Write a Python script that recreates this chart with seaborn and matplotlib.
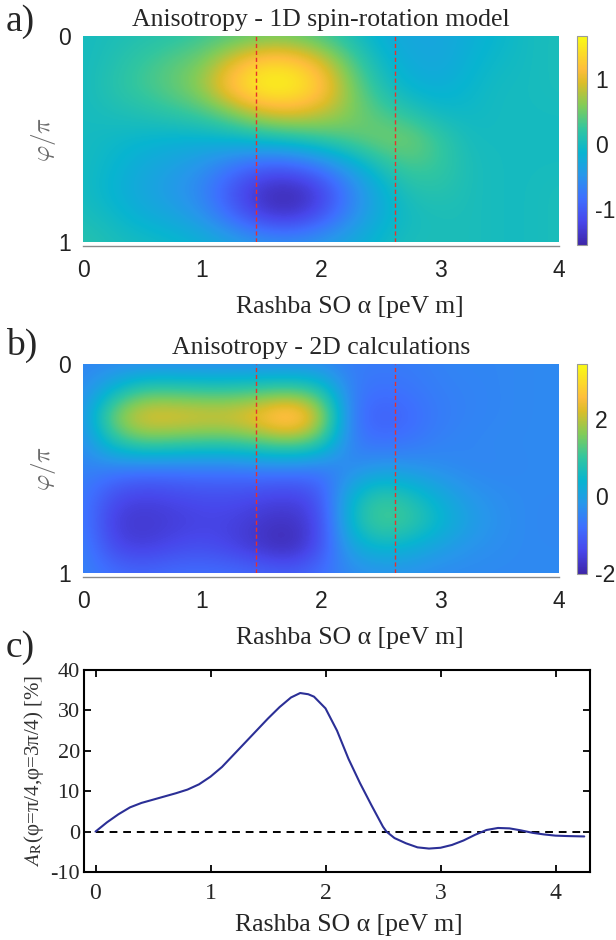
import numpy as np
import seaborn as sns
import matplotlib.pyplot as plt
from matplotlib.colors import LinearSegmentedColormap

# panel a: 1D spin-rotation model, rows phi/pi = 0..1 (step 1/8), cols alpha = 0..4 (step 0.25)
alpha_grid = [0, 0.25, 0.5, 0.75, 1, 1.25, 1.5, 1.75, 2, 2.25, 2.5, 2.75, 3, 3.25, 3.5, 3.75, 4]
phi_grid = [0, 0.125, 0.25, 0.375, 0.5, 0.625, 0.75, 0.875, 1]

aniso_1d = [
    [0.00, 0.05, 0.10, 0.15, 0.25, 0.35, 0.45, 0.45, 0.30, 0.05, -0.20, -0.30, -0.30, -0.20, -0.10, 0.00, 0.05],
    [0.00, 0.10, 0.25, 0.40, 0.55, 1.00, 1.35, 1.35, 1.00, 0.40, -0.05, -0.25, -0.30, -0.15, -0.05, 0.00, 0.05],
    [0.00, 0.15, 0.30, 0.45, 0.70, 1.30, 1.66, 1.66, 1.30, 0.60, 0.10, -0.15, -0.20, -0.10, 0.00, 0.00, 0.05],
    [0.00, 0.05, 0.10, 0.20, 0.30, 0.55, 0.90, 1.00, 0.85, 0.60, 0.35, 0.15, -0.05, -0.05, 0.00, 0.00, 0.00],
    [0.00, -0.05, -0.10, -0.15, -0.15, -0.10, 0.00, 0.10, 0.25, 0.40, 0.55, 0.55, 0.25, 0.00, 0.00, 0.00, 0.00],
    [0.00, -0.10, -0.25, -0.35, -0.50, -0.75, -0.95, -0.95, -0.70, -0.30, 0.10, 0.35, 0.25, 0.05, 0.00, 0.00, 0.00],
    [0.00, -0.15, -0.30, -0.45, -0.65, -1.10, -1.45, -1.55, -1.30, -0.70, -0.20, 0.10, 0.15, 0.05, 0.00, 0.00, 0.05],
    [0.05, -0.05, -0.20, -0.30, -0.50, -0.90, -1.30, -1.40, -1.10, -0.60, -0.20, 0.00, 0.05, 0.05, 0.00, 0.00, 0.05],
    [0.15, 0.05, 0.00, -0.05, -0.15, -0.30, -0.45, -0.50, -0.40, -0.25, -0.05, 0.05, 0.05, 0.05, 0.00, 0.00, 0.05],
]

# panel b: 2D calculations, same grid
aniso_2d = [
    [-0.45, -0.45, -0.45, -0.45, -0.45, -0.45, -0.45, -0.45, -0.45, -0.60, -0.60, -0.60, -0.50, -0.45, -0.45, -0.40, -0.40],
    [-0.40, 0.40, 1.10, 1.10, 1.00, 1.00, 1.10, 1.20, 0.90, -0.60, -0.80, -0.70, -0.55, -0.50, -0.45, -0.40, -0.40],
    [-0.30, 1.70, 2.50, 2.50, 2.40, 2.40, 2.80, 3.40, 2.20, -0.70, -1.10, -0.90, -0.60, -0.50, -0.45, -0.40, -0.40],
    [-0.40, 0.80, 1.30, 1.20, 1.10, 1.10, 1.30, 1.50, 1.10, -0.60, -0.80, -0.70, -0.50, -0.45, -0.40, -0.40, -0.40],
    [-0.50, -0.60, -0.70, -0.70, -0.70, -0.70, -0.60, -0.60, -0.70, -0.40, -0.10, -0.20, -0.35, -0.45, -0.45, -0.40, -0.40],
    [-0.60, -1.30, -1.50, -1.40, -1.30, -1.30, -1.40, -1.50, -1.20, 0.40, 1.00, 0.70, 0.20, -0.20, -0.35, -0.40, -0.40],
    [-0.60, -1.60, -1.70, -1.60, -1.50, -1.50, -1.70, -1.80, -1.40, 0.60, 1.30, 1.10, 0.50, 0.00, -0.30, -0.40, -0.45],
    [-0.50, -1.40, -1.60, -1.40, -1.30, -1.50, -1.80, -2.00, -1.30, 0.10, 0.50, 0.30, 0.00, -0.25, -0.35, -0.40, -0.40],
    [-0.50, -0.80, -0.90, -0.80, -0.80, -0.80, -0.90, -1.00, -0.80, -0.40, -0.30, -0.30, -0.40, -0.40, -0.40, -0.40, -0.40],
]

# panel c: A_R(phi=pi/4, phi=3pi/4) in %
alpha_c = [0.00, 0.10, 0.20, 0.30, 0.40, 0.50, 0.60, 0.70, 0.80, 0.90, 1.00, 1.10, 1.20, 1.30,
           1.40, 1.50, 1.60, 1.70, 1.78, 1.85, 1.90, 2.00, 2.10, 2.20, 2.30, 2.40, 2.50, 2.53,
           2.60, 2.70, 2.80, 2.90, 3.00, 3.10, 3.20, 3.30, 3.40, 3.50, 3.60, 3.70, 3.80, 3.90,
           4.00, 4.10, 4.25]
aniso_c = [0.0, 2.3, 4.3, 6.0, 7.1, 7.9, 8.7, 9.5, 10.4, 11.7, 13.6, 16.0, 19.0, 22.0,
           25.0, 28.0, 30.8, 33.2, 34.3, 34.0, 33.4, 30.5, 25.0, 18.0, 12.0, 6.5, 1.2, 0.0,
           -1.6, -2.9, -3.9, -4.2, -4.0, -3.3, -2.2, -0.8, 0.4, 0.9, 0.8, 0.3, -0.3, -0.7,
           -1.0, -1.1, -1.2]

marker_alpha = [1.45, 2.62]

sns.set_style('white')
plt.rcParams['font.family'] = ['Liberation Serif', 'DejaVu Serif']
plt.rcParams['axes.unicode_minus'] = False

parula = LinearSegmentedColormap.from_list('parula', [
    (0.0, (0.2422, 0.1504, 0.6603)),
    (7 / 63, (0.2803, 0.2782, 0.9221)),
    (14 / 63, (0.2440, 0.4358, 0.9988)),
    (21 / 63, (0.1540, 0.5902, 0.9218)),
    (28 / 63, (0.0297, 0.7082, 0.8163)),
    (35 / 63, (0.1938, 0.7758, 0.6251)),
    (42 / 63, (0.5044, 0.7993, 0.3480)),
    (49 / 63, (0.8634, 0.7406, 0.1596)),
    (53 / 63, (0.9956, 0.7434, 0.2371)),
    (56 / 63, (0.9892, 0.8136, 0.1885)),
    (1.0, (0.9769, 0.9839, 0.0805)),
])

sans = 'Liberation Sans'
fig = plt.figure(figsize=(6.16, 9.40), dpi=100)


def heat_panel(rect, cbar_rect, data, vmin, vmax, cticks, title, label_x):
    ax = fig.add_axes(rect)
    da = (alpha_grid[1] - alpha_grid[0]) / 2
    dp = (phi_grid[1] - phi_grid[0]) / 2
    im = ax.imshow(np.array(data), cmap=parula, vmin=vmin, vmax=vmax, aspect='auto',
                   interpolation='bicubic', interpolation_stage='data',
                   extent=(alpha_grid[0] - da, alpha_grid[-1] + da, phi_grid[-1] + dp, phi_grid[0] - dp))
    ax.set_xlim(0, 4)
    ax.set_ylim(1, 0)
    for a in marker_alpha:
        ax.axvline(a, color='#e8302a', lw=1.0, ls=(0, (3, 2)))
    for s in ['top', 'right', 'left']:
        ax.spines[s].set_visible(False)
    ax.spines['bottom'].set_position(('outward', 3))
    ax.spines['bottom'].set_color('#8a8a8a')
    ax.spines['bottom'].set_linewidth(1.0)
    ax.set_xticks([0, 1, 2, 3, 4])
    ax.set_yticks([0, 1])
    ax.tick_params(axis='x', direction='in', length=4, color='#555555', pad=9, labelsize=16.5)
    ax.tick_params(axis='y', length=0, pad=9, labelsize=16.5)
    for t in ax.get_xticklabels() + ax.get_yticklabels():
        t.set_fontfamily(sans)
        t.set_color('#222222')
    ax.set_title(title, fontsize=18.5, pad=7)
    ax.set_ylabel(r'$\varphi/\pi$', fontsize=18, color='#6a6a6a', math_fontfamily='cm')
    ax.yaxis.set_label_coords(-0.053, 0.5)
    ax.set_xlabel('Rashba SO α [peV m]', fontsize=18.5, labelpad=2)
    ax.xaxis.set_label_coords(label_x, -0.26)
    cax = fig.add_axes(cbar_rect)
    cb = fig.colorbar(im, cax=cax, ticks=cticks)
    cb.outline.set_edgecolor('#9a9a9a')
    cb.outline.set_linewidth(0.8)
    cax.tick_params(direction='in', length=3, color='#444444', pad=6, labelsize=16.5)
    for t in cax.get_yticklabels():
        t.set_fontfamily(sans)
        t.set_color('#222222')
    return ax


ax_a = heat_panel([83 / 616, 1 - 242 / 940, 476 / 616, 206 / 940],
                  [577 / 616, 1 - 245 / 940, 10 / 616, 209 / 940],
                  aniso_1d, -1.55, 1.66, [-1, 0, 1],
                  'Anisotropy - 1D spin-rotation model', 0.56)
ax_b = heat_panel([83 / 616, 1 - 573 / 940, 476 / 616, 209 / 940],
                  [577 / 616, 1 - 574 / 940, 10 / 616, 210 / 940],
                  aniso_2d, -2.02, 3.42, [-2, 0, 2],
                  'Anisotropy - 2D calculations', 0.56)

# panel c
ax_c = fig.add_axes([84 / 616, 1 - 872 / 940, 506 / 616, 202 / 940])
ax_c.hlines(0, 0, 4.25, color='black', lw=1.4, ls=(0, (4, 3)))
sns.lineplot(x=alpha_c, y=aniso_c, ax=ax_c, color='#2b2f96', lw=1.5)
ax_c.set_xlim(-0.1, 4.3)
ax_c.set_ylim(-10, 40)
ax_c.set_xticks([0, 1, 2, 3, 4])
ax_c.set_yticks([-10, 0, 10, 20, 30, 40])
for s in ax_c.spines.values():
    s.set_color('black')
    s.set_linewidth(1.5)
ax_c.tick_params(direction='in', length=5, width=1.3, top=True, right=True, bottom=True, left=True,
                 color='black')
ax_c.tick_params(axis='x', labelsize=17, pad=8)
ax_c.tick_params(axis='y', labelsize=16, pad=3)
ax_c.set_xlabel('Rashba SO α [peV m]', fontsize=18.5)
ax_c.xaxis.set_label_coords(0.524, -0.21)
ax_c.set_ylabel(r'$A_{\rm R}$(φ=π/4,φ=3π/4) [%]', fontsize=15, color='#333333', math_fontfamily='stix')
ax_c.yaxis.set_label_coords(-0.076, 0.5)

fig.text(6 / 616, 1 - 22 / 940, 'a)', fontsize=27, va='center', ha='left')
fig.text(6 / 616, 1 - 345 / 940, 'b)', fontsize=27, va='center', ha='left')
fig.text(6 / 616, 1 - 648 / 940, 'c)', fontsize=27, va='center', ha='left')

fig.savefig('out.png', dpi=100)
